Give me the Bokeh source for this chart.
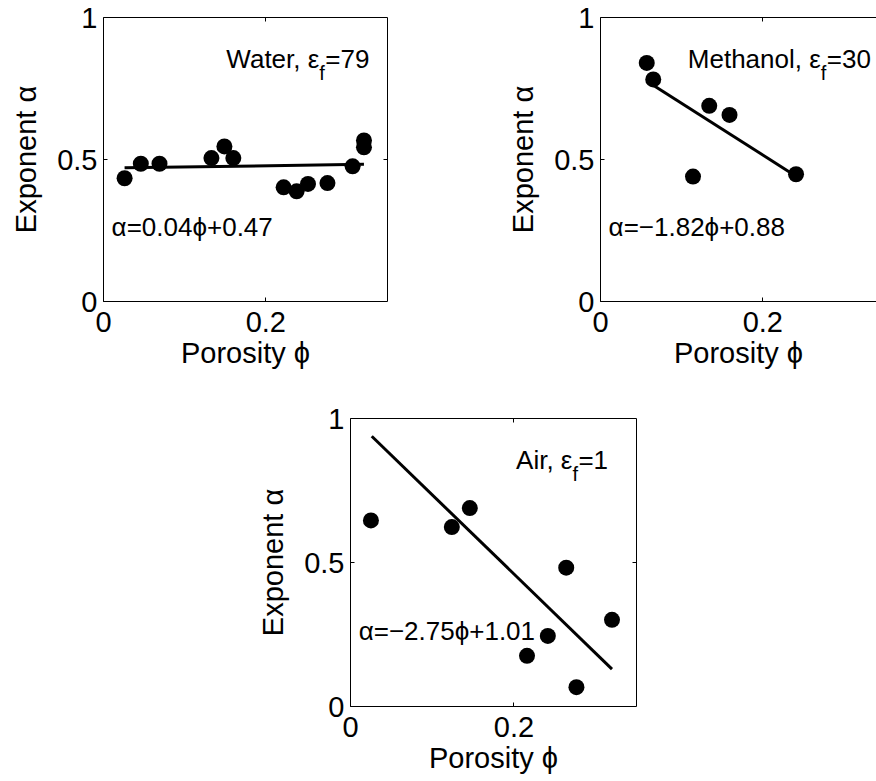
from bokeh.plotting import figure
from bokeh.models import LinearAxis, FixedTicker, Spacer
from bokeh.layouts import column, row
from bokeh.core.properties import value
from bokeh.embed import file_html
from bokeh.resources import INLINE

FONT = "Liberation Sans"

# ---------------- data ----------------
water_phi = [0.026, 0.046, 0.069, 0.133, 0.149, 0.160, 0.222, 0.238, 0.252, 0.276, 0.307, 0.321, 0.321]
water_alpha = [0.434, 0.485, 0.485, 0.505, 0.546, 0.505, 0.402, 0.388, 0.414, 0.417, 0.476, 0.567, 0.543]
water_fit = [0.04, 0.47]          # slope, intercept
water_fit_span = [0.026, 0.321]   # phi range of the fitted line

methanol_phi = [0.057, 0.065, 0.134, 0.159, 0.114, 0.241]
methanol_alpha = [0.840, 0.782, 0.689, 0.657, 0.440, 0.448]
methanol_fit = [-1.82, 0.88]
methanol_fit_span = [0.065, 0.241]

air_phi = [0.025, 0.124, 0.146, 0.264, 0.320, 0.2415, 0.216, 0.2765]
air_alpha = [0.646, 0.623, 0.689, 0.482, 0.301, 0.245, 0.176, 0.067]
air_fit = [-2.75, 1.01]
air_fit_span = [0.026, 0.320]

x_ticks = [0, 0.2]
x_tick_labels = ["0", "0.2"]
y_ticks = [0, 0.5, 1]
y_tick_labels = ["0", "0.5", "1"]

panel_names = ["Water", "Methanol", "Air"]
panel_eps = ["79", "30", "1"]
panel_eqs = ["α=0.04ϕ+0.47", "α=−1.82ϕ+0.88", "α=−2.75ϕ+1.01"]


def make_panel(phi, alpha, fit, span, name, eps, eq, frame_w, frame_h,
               bl, br, bt, bb, x_end, anchor_x, right_box=True):
    p = figure(width=bl + frame_w + br, height=bt + frame_h + bb,
               x_range=(0, x_end), y_range=(0, 1),
               output_backend="svg", toolbar_location=None,
               min_border_left=bl, min_border_right=br,
               min_border_top=bt, min_border_bottom=bb)
    p.grid.visible = False
    p.outline_line_color = None
    p.background_fill_color = "white"
    p.border_fill_color = "white"

    for ax, ticks, labels in ((p.xaxis[0], x_ticks, x_tick_labels),
                              (p.yaxis[0], y_ticks, y_tick_labels)):
        ax.ticker = FixedTicker(ticks=ticks)
        ax.major_label_overrides = {t: l for t, l in zip(ticks, labels)}
        ax.major_tick_in = 4
        ax.major_tick_out = 0
        ax.minor_tick_line_color = None
        ax.axis_line_color = "black"
        ax.major_tick_line_color = "black"
        ax.major_label_text_font = FONT
        ax.major_label_text_font_size = "29px"
        ax.major_label_text_color = "black"
        ax.axis_label_text_font = FONT
        ax.axis_label_text_font_size = "29px"
        ax.axis_label_text_font_style = "normal"
        ax.axis_label_text_color = "black"

    p.xaxis.axis_label = "Porosity ϕ"
    p.yaxis.axis_label = "Exponent α"
    p.xaxis.major_label_standoff = 10
    p.yaxis.major_label_standoff = 6
    p.xaxis.axis_label_standoff = 2
    p.yaxis.axis_label_standoff = 12

    # box lines with inward ticks on top / right (MATLAB "box on")
    extra = [("above", [0.2])]
    if right_box:
        extra.append(("right", [0.5]))
    for side, ticks in extra:
        ax = LinearAxis(ticker=FixedTicker(ticks=ticks),
                        major_label_overrides={t: "" for t in ticks},
                        major_label_text_font_size="1px",
                        major_label_standoff=0,
                        major_tick_in=4, major_tick_out=0,
                        minor_tick_line_color=None,
                        axis_line_color="black",
                        major_tick_line_color="black")
        p.add_layout(ax, side)

    p.scatter(phi, alpha, size=16, fill_color="black", line_color=None)
    fx = list(span)
    fy = [fit[0] * x + fit[1] for x in fx]
    p.line(fx, fy, line_color="black", line_width=3)

    # annotation "Name, eps_f=NN"
    ay = 0.855
    p.text(x=[anchor_x], y=[ay], text=[f"{name}, ε"], text_align="right",
           text_baseline="alphabetic", text_font=value(FONT),
           text_font_size=value("26px"), text_color="black")
    p.text(x=[anchor_x], y=[ay], text=["f"], text_align="left", y_offset=14,
           text_baseline="alphabetic", text_font=value(FONT),
           text_font_size=value("20px"), text_color="black")
    p.text(x=[anchor_x], y=[ay], text=[f"={eps}"], text_align="left", x_offset=6,
           text_baseline="alphabetic", text_font=value(FONT),
           text_font_size=value("26px"), text_color="black")
    # fit equation
    p.text(x=[0.01], y=[0.263], text=[eq], text_align="left",
           text_baseline="alphabetic", text_font=value(FONT),
           text_font_size=value("26px"), text_color="black")
    return p


p1 = make_panel(water_phi, water_alpha, water_fit, water_fit_span,
                panel_names[0], panel_eps[0], panel_eqs[0],
                284, 284, 103, 10, 17, 87, 0.35, 0.266)
p2 = make_panel(methanol_phi, methanol_alpha, methanol_fit, methanol_fit_span,
                panel_names[1], panel_eps[1], panel_eqs[1],
                276, 284, 203, 0, 17, 87, 0.35 * 276 / 284, 0.2715, right_box=False)
p3 = make_panel(air_phi, air_alpha, air_fit, air_fit_span,
                panel_names[2], panel_eps[2], panel_eqs[2],
                287, 288, 95, 10, 30, 75, 0.35, 0.2716)

layout = column(row(p1, p2), row(Spacer(width=254, height=10), p3))

open("out.html", "w").write(file_html(layout, INLINE))
